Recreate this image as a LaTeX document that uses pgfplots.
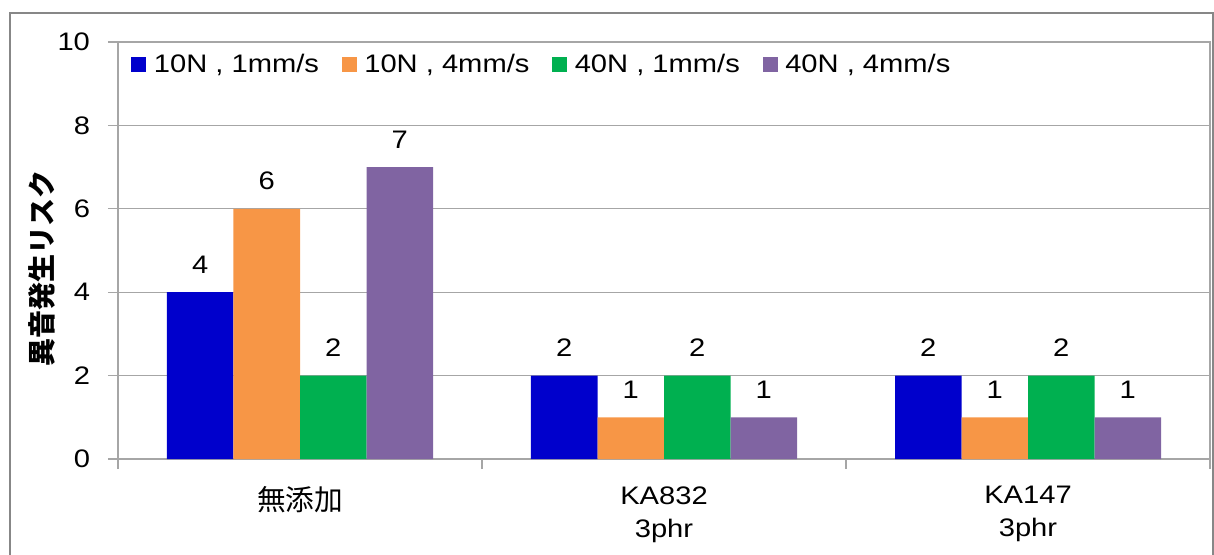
\documentclass[border=0pt]{standalone}
\usepackage{pgfplots}
\pgfplotsset{compat=1.18}
\usepackage{fontspec}
\setmainfont{Liberation Sans}[FakeStretch=1.15]
\newfontfamily\cjk{Noto Sans CJK JP}
\definecolor{cBlue}{HTML}{0000CC}
\definecolor{cOrange}{HTML}{F79646}
\definecolor{cGreen}{HTML}{00B050}
\definecolor{cPurple}{HTML}{8064A2}
\definecolor{axGray}{HTML}{A6A6A6}
\definecolor{frGray}{HTML}{878787}
\newcommand{\lbl}{\fontsize{19}{24.75}\selectfont}
\pgfplotsset{sqleg/.style={legend image code/.code={\fill[##1] (0pt,-5.6pt) rectangle (11.25pt,5.6pt);}}}
\begin{document}
\begin{tikzpicture}
\path[use as bounding box] (0,0) rectangle (910.5pt,415.5pt);
% outer chart frame
\draw[frGray, line width=1.5pt] (7.5pt,-10pt) rectangle (909.75pt,405.75pt);
\begin{axis}[
    at={(88.5pt,71.25pt)}, anchor=south west,
    scale only axis, width=819pt, height=312.75pt,
    /pgf/number format/assume math mode=true,
    ybar=0pt, bar width=0.1827,
    xmin=-0.5, xmax=2.5, ymin=0, ymax=10,
    ytick={0,2,...,10},
    xtick={-0.5,0.5,1.5,2.5}, xticklabels={},
    extra x ticks={0,1,2},
    extra x tick labels={{\fontsize{21.5}{24.75}\selectfont\cjk 無添加},{KA832\\3phr},{KA147\\3phr}},
    extra x tick style={major tick length=0pt, grid=none,
        xticklabel style={align=center, font=\lbl, yshift=-17pt}},
    xtick pos=bottom, ytick pos=left,
    tick align=outside, major tick length=7.5pt,
    tick style={axGray, line width=0.8pt},
    axis line style={axGray, line width=0.8pt},
    ymajorgrids, grid style={axGray, line width=0.8pt},
    yticklabel style={font=\lbl, xshift=-10pt},
    ylabel={\cjk\bfseries 異音発生リスク},
    ylabel style={font=\fontsize{21}{24}\selectfont, at={(axis description cs:-0.0696,0.458)}, anchor=center},
    nodes near coords,
    every node near coord/.append style={font=\lbl, text=black, inner sep=0pt, anchor=south, yshift=13.9pt},
    legend columns=4,
    legend style={draw=none, fill=none, font=\lbl,
        at={(axis description cs:0.0082,0.947)}, anchor=west,
        /tikz/every odd column/.append style={column sep=3.75pt},
        /tikz/every even column/.append style={column sep=15pt}},
]
\addplot[fill=cBlue, draw=none, sqleg] coordinates {(0,4) (1,2) (2,2)};
\addplot[fill=cOrange, draw=none, sqleg] coordinates {(0,6) (1,1) (2,1)};
\addplot[fill=cGreen, draw=none, sqleg] coordinates {(0,2) (1,2) (2,2)};
\addplot[fill=cPurple, draw=none, sqleg] coordinates {(0,7) (1,1) (2,1)};
\legend{{10N , 1mm/s},{10N , 4mm/s},{40N , 1mm/s},{40N , 4mm/s}}
\end{axis}
\end{tikzpicture}
\end{document}
